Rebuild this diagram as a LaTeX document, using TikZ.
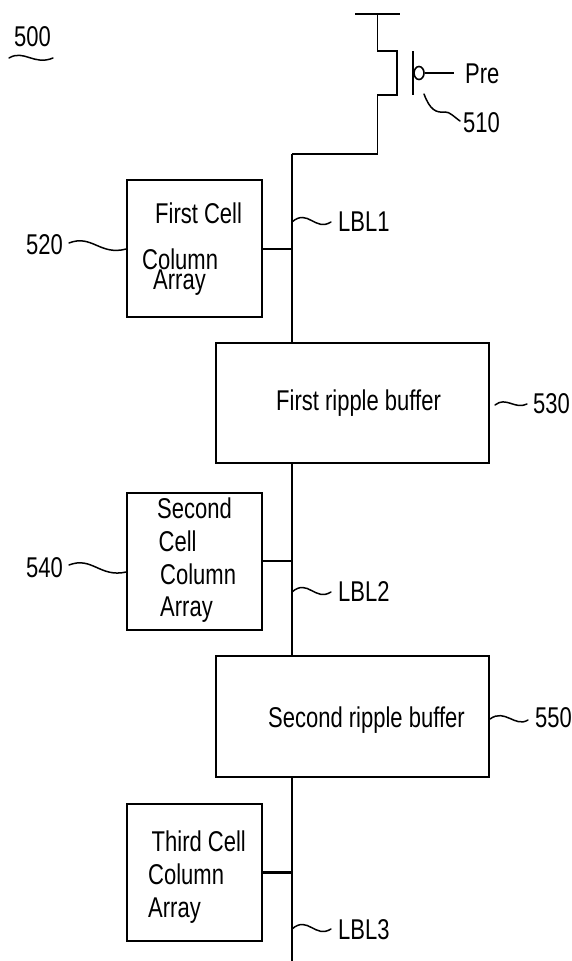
\documentclass[tikz,border=0pt]{standalone}
\usepackage{fontspec}
\usetikzlibrary{shapes.geometric}
\setmainfont{Liberation Sans}
\newcommand{\TT}[1]{\scalebox{1}[1.3]{#1}}
\tikzset{
  every picture/.style={x=1pt,y=-1pt,line join=miter},
  cellbox/.style={draw,line width=1.6pt,minimum width=135pt,minimum height=137pt,inner sep=0pt},
  bufbox/.style={draw,line width=1.6pt,minimum width=273pt,minimum height=120pt,inner sep=0pt},
  lbl/.style={inner sep=0pt,anchor=base west,font=\fontsize{22}{22}\selectfont},
  wire/.style={line width=1.6pt},
  thickwire/.style={line width=2.2pt},
  leader/.style={line width=1.5pt,line cap=round},
}
\begin{document}
\begin{tikzpicture}
\useasboundingbox (0,0) rectangle (571,961);
% boxes
\node[cellbox] (c1) at (194.5,248.5) {};
\node[bufbox] (b1) at (352.5,403) {};
\node[cellbox] (c2) at (194.5,561.5) {};
\node[bufbox,minimum height=121pt] (b2) at (352.5,716.5) {};
\node[cellbox] (c3) at (194.5,872.5) {};
% coordinates
\coordinate (vdd) at (377.5,14);
\coordinate (vl) at (355,14);
\coordinate (vr) at (400,14);
\coordinate (d1) at (377.5,51);
\coordinate (d2) at (397,51);
\coordinate (s2) at (397,95);
\coordinate (s1) at (377.5,95);
\coordinate (t1) at (377.5,154);
\coordinate (t2) at (292,154);
\coordinate (bot) at (292,961);
\coordinate (j1) at (292,249);
\coordinate (j2) at (292,561);
\coordinate (j3) at (292,872.5);
\coordinate (g1) at (413,51);
\coordinate (g2) at (413,95);
\coordinate (gp) at (454,73);
% transistor
\draw[wire] (vl) -- (vr);
\draw[wire] (vdd) -- (d1) -- (d2) -- (s2) -- (s1) -- (t1);
\draw[thickwire] (s1 |- t1) -- (t2);
\draw[wire] (t2) -- (b1.north -| t2);
\draw[wire] (g1) -- (g2);
\node[draw,ellipse,line width=1.6pt,minimum width=10pt,minimum height=13pt,inner sep=0pt] (bub) at (419,73) {};
\draw[wire] (bub) -- (gp);
% bit line
\draw[wire] (b1.south -| t2) -- (b2.north -| t2);
\draw[wire] (b2.south -| t2) -- (bot);
\draw[wire] (c1.east |- j1) -- (j1);
\draw[wire] (c2.east |- j2) -- (j2);
\draw[thickwire] (c3.east |- j3) -- (j3);
% labels
\node[lbl] (t500) at (14,46.5) {\TT{500}};
\node[lbl] (tpre) at (465,83) {\TT{Pre}};
\node[lbl] (t510) at (463,132) {\TT{510}};
\node[lbl] (t520) at (26,254) {\TT{520}};
\node[lbl] (tlbl1) at (338,231) {\TT{LBL1}};
\node[lbl] (t530) at (533,413) {\TT{530}};
\node[lbl] (t540) at (26,577) {\TT{540}};
\node[lbl] (tlbl2) at (338,601) {\TT{LBL2}};
\node[lbl] (t550) at (535,727) {\TT{550}};
\node[lbl] (tlbl3) at (338,939) {\TT{LBL3}};
\node[lbl] (c1a) at (155,223) {\TT{First Cell}};
\node[lbl] (c1b) at (142,269) {\TT{Column}};
\node[lbl] (c1c) at (153,289) {\TT{Array}};
\node[lbl] (b1t) at (276,410) {\TT{First ripple buffer}};
\node[lbl] (c2a) at (157,518) {\TT{Second}};
\node[lbl] (c2b) at (158.5,551) {\TT{Cell}};
\node[lbl] (c2c) at (160,584) {\TT{Column}};
\node[lbl] (c2d) at (160,616) {\TT{Array}};
\node[lbl] (b2t) at (268,727) {\TT{Second ripple buffer}};
\node[lbl] (c3a) at (151.5,851) {\TT{Third Cell}};
\node[lbl] (c3b) at (148,884) {\TT{Column}};
\node[lbl] (c3c) at (148,917) {\TT{Array}};
% leaders
\coordinate (u1) at (9,58);
\coordinate (u2) at (53,58);
\draw[leader] (u1) .. controls (24,49) and (34,66) .. (u2);
\coordinate (l510a) at (424,94);
\coordinate (l510b) at (460,121);
\draw[leader] (l510a) .. controls (430,110) and (436,113) .. (445,112) .. controls (450,112) and (453,116) .. (l510b);
\coordinate (l520) at (69,243);
\draw[leader] (l520) .. controls (92,234) and (100,256) .. (c1.west |- 0,249);
\coordinate (l1a) at (292,222);
\coordinate (l1b) at (331,222);
\draw[leader] (l1a) .. controls (308,208) and (315,232) .. (l1b);
\coordinate (l530a) at (495,405);
\coordinate (l530) at (527,404);
\draw[leader] (l530a) .. controls (506,396) and (515,410) .. (l530);
\coordinate (l540) at (69,565);
\draw[leader] (l540) .. controls (92,556) and (100,578) .. (c2.west |- 0,572);
\coordinate (l2a) at (292,592);
\coordinate (l2b) at (331,592);
\draw[leader] (l2a) .. controls (308,578) and (315,602) .. (l2b);
\coordinate (l550a) at (490,719);
\coordinate (l550) at (528,720);
\draw[leader] (l550a) .. controls (505,708) and (515,728) .. (l550);
\coordinate (l3a) at (292,929);
\coordinate (l3b) at (331,929);
\draw[leader] (l3a) .. controls (308,915) and (315,939) .. (l3b);
\end{tikzpicture}
\end{document}
